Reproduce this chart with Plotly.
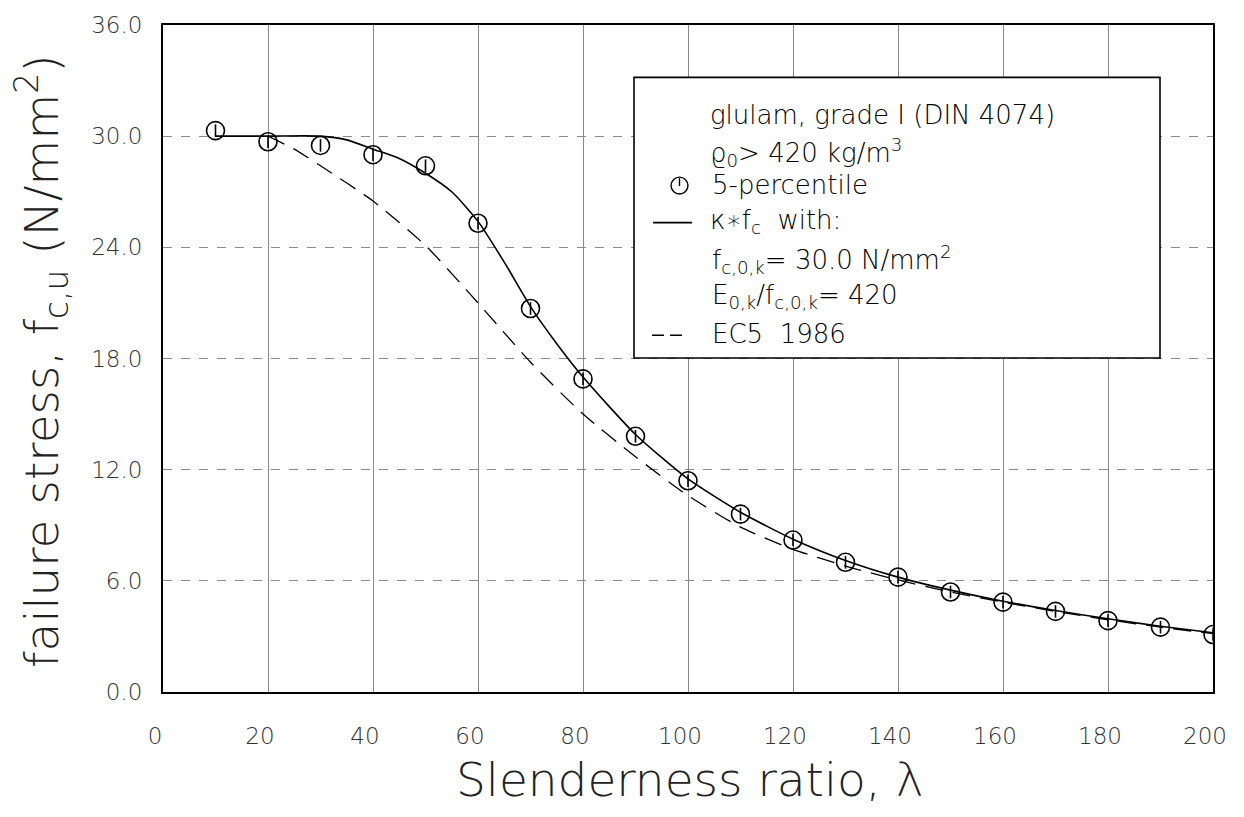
import plotly.graph_objects as go

# ---- data ----
lam_pts = [10, 20, 30, 40, 50, 60, 70, 80, 90, 100, 110, 120, 130, 140, 150, 160, 170, 180, 190, 200]
f_pts = [30.3, 29.7, 29.5, 29.0, 28.4, 25.3, 20.7, 16.9, 13.8, 11.4, 9.6, 8.2, 7.0, 6.2, 5.4, 4.85, 4.35, 3.85, 3.5, 3.1]

lam_kappa = [10, 20, 30, 35, 40, 45, 50, 55, 60, 65, 70, 75, 80, 90, 100, 110, 120, 130, 140, 150, 160, 170, 180, 190, 200]
f_kappa = [30.0, 30.0, 30.0, 29.8, 29.3, 28.8, 28.0, 27.0, 25.4, 23.2, 20.8, 18.8, 17.0, 13.9, 11.5, 9.7, 8.25, 7.1, 6.2, 5.5, 4.9, 4.4, 3.95, 3.55, 3.2]

lam_ec5 = [20, 25, 30, 40, 50, 60, 70, 80, 90, 100, 110, 120, 130, 140, 150, 160, 170, 180, 190, 200]
f_ec5 = [30.0, 29.3, 28.4, 26.5, 24.1, 21.0, 17.8, 15.0, 12.7, 10.6, 8.9, 7.7, 6.8, 6.05, 5.4, 4.85, 4.35, 3.9, 3.5, 3.15]

x_ticks = [0, 20, 40, 60, 80, 100, 120, 140, 160, 180, 200]
x_ticktext = ["0", "20", "40", "60", "80", "100", "120", "140", "160", "180", "200"]
y_ticks = [0, 6, 12, 18, 24, 30, 36]
y_ticktext = ["0.0", "6.0", "12.0", "18.0", "24.0", "30.0", "36.0"]

legend_lines = [
    "glulam, grade I (DIN 4074)",
    "ϱ<sub>0</sub>> 420 kg/m<sup>3</sup>",
    "5-percentile",
    "κ∗f<sub>c</sub>  with:",
    "f<sub>c,0,k</sub>= 30.0 N/mm<sup>2</sup>",
    "E<sub>0,k</sub>/f<sub>c,0,k</sub>= 420",
    "EC5  1986",
]

FONT = "DejaVu Sans"
TXT = "#1a1a1a"

# plot area in pixels
L, R, T, B = 163, 1213, 17, 692
W, H = 1244, 817


def px(xp):
    return (xp - L) / (R - L)


def py(yp):
    return (B - yp) / (B - T)


fig = go.Figure()

fig.add_trace(go.Scatter(x=lam_ec5, y=f_ec5, mode="lines",
                         line=dict(color="black", width=1.3, dash="18px,10px", shape="spline", smoothing=0.6),
                         showlegend=False, hoverinfo="skip"))
fig.add_trace(go.Scatter(x=lam_kappa, y=f_kappa, mode="lines",
                         line=dict(color="black", width=1.6, shape="spline", smoothing=0.6),
                         showlegend=False, hoverinfo="skip"))
fig.add_trace(go.Scatter(x=lam_pts, y=f_pts, mode="markers",
                         marker=dict(symbol="circle-open", size=18, color="black", line=dict(width=1.6)),
                         showlegend=False))
fig.add_trace(go.Scatter(x=lam_pts, y=f_pts, mode="markers",
                         marker=dict(symbol="line-ns", size=9, color="black", line=dict(width=1.6, color="black")),
                         showlegend=False, hoverinfo="skip"))

shapes = []
annotations = []

# legend box
shapes.append(dict(type="rect", xref="paper", yref="paper",
                   x0=px(634), x1=px(1160), y0=py(354), y1=py(70),
                   line=dict(color="black", width=1.6), fillcolor="white", layer="above"))
# marker sample
shapes.append(dict(type="circle", xref="paper", yref="paper",
                   x0=px(671), x1=px(688), y0=py(188), y1=py(171),
                   line=dict(color="black", width=1.4), layer="above"))
shapes.append(dict(type="line", xref="paper", yref="paper",
                   x0=px(679.5), x1=px(679.5), y0=py(180), y1=py(172),
                   line=dict(color="black", width=1.4), layer="above"))
# solid line sample
shapes.append(dict(type="line", xref="paper", yref="paper",
                   x0=px(653), x1=px(692), y0=py(217), y1=py(217),
                   line=dict(color="black", width=1.8), layer="above"))
# dashed line sample
shapes.append(dict(type="line", xref="paper", yref="paper",
                   x0=px(652), x1=px(688), y0=py(331), y1=py(331),
                   line=dict(color="black", width=1.5, dash="12px,6px"), layer="above"))

legend_pos = [(708, 108), (708, 146), (710, 179), (708, 216), (710, 254), (710, 292), (710, 330)]
for txt, (xp, yp) in zip(legend_lines, legend_pos):
    annotations.append(dict(text=txt, xref="paper", yref="paper", x=px(xp), y=py(yp),
                            xanchor="left", yanchor="middle", showarrow=False,
                            font=dict(family=FONT, size=26, color="black", weight=200)))

# axis titles
annotations.append(dict(text="Slenderness ratio, λ", xref="paper", yref="paper",
                        x=px(690), y=py(781), xanchor="center", yanchor="middle", showarrow=False,
                        font=dict(family=FONT, size=47, color="#222", weight=200)))
annotations.append(dict(text="failure stress, f<sub>c,u</sub> (N/mm<sup>2</sup>)", xref="paper", yref="paper",
                        x=px(42), y=py(358), xanchor="center", yanchor="middle", showarrow=False, textangle=-90,
                        font=dict(family=FONT, size=47, color="#222", weight=200)))

fig.update_layout(
    width=W, height=H,
    margin=dict(l=L, r=W - R, t=T, b=H - B),
    paper_bgcolor="white", plot_bgcolor="white",
    shapes=shapes, annotations=annotations,
    showlegend=False,
    font=dict(family=FONT, color=TXT),
)
fig.update_xaxes(range=[0, 200], tickvals=x_ticks, ticktext=x_ticktext,
                 showgrid=True, gridcolor="#8a8a8a", gridwidth=1,
                 showline=True, linecolor="black", linewidth=1.6, mirror=True,
                 ticks="", ticklabelstandoff=23, ticklabelshift=-8,
                 tickfont=dict(family=FONT, size=23, color="#333", weight=200),
                 zeroline=False)
fig.update_yaxes(range=[0, 36], tickvals=y_ticks, ticktext=y_ticktext,
                 showgrid=True, gridcolor="#8a8a8a", gridwidth=1, griddash="dash",
                 showline=True, linecolor="black", linewidth=2, mirror=True,
                 ticks="", ticklabelstandoff=14,
                 tickfont=dict(family=FONT, size=23, color="#333", weight=200),
                 zeroline=False)

fig.write_html("out.html")
